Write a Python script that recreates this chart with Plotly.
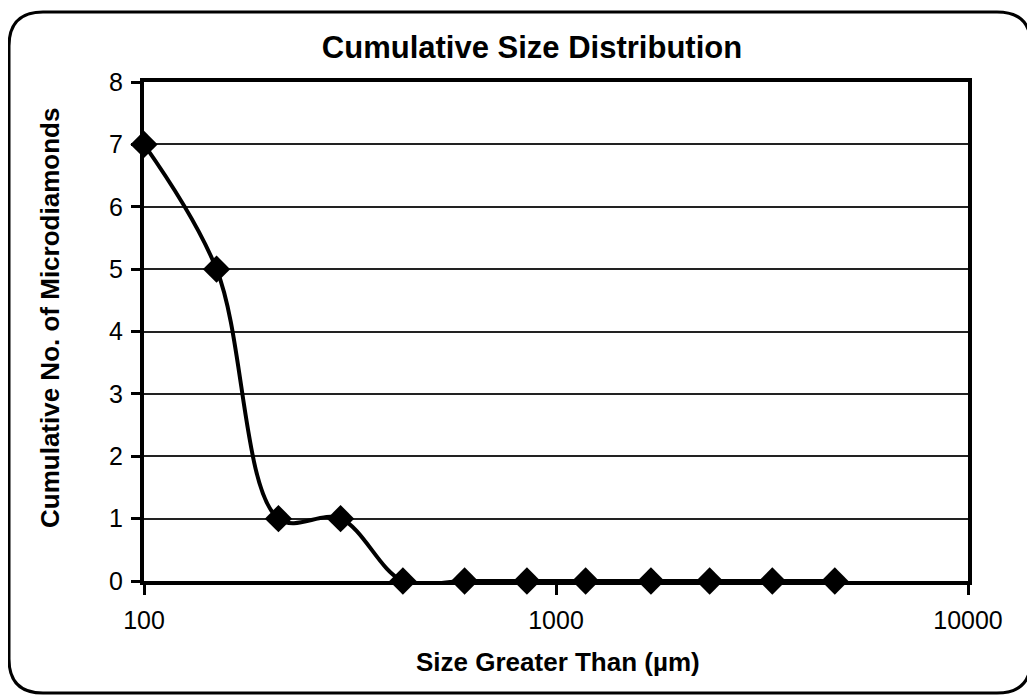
import plotly.graph_objects as go

# Data
sizes_um = [100, 150, 212, 300, 425, 600, 850, 1180, 1700, 2360, 3350, 4750]
cumulative_count = [7, 5, 1, 1, 0, 0, 0, 0, 0, 0, 0, 0]
y_ticks = [0, 1, 2, 3, 4, 5, 6, 7, 8]
x_ticks = [100, 1000, 10000]
x_tick_labels = ["100", "1000", "10000"]

# The page body adds an 8px offset; work in page pixels and convert.
OFF = 8
W, H = 1035 - OFF, 698 - OFF
PL, PR, PT, PB = 144, 968, 82, 581          # plot area in page pixels
L, T = PL - OFF, PT - OFF
R, B = W - (PR - OFF), H - (PB - OFF)
PW, PH = PR - PL, PB - PT

def px_x(x):
    return (x - PL) / PW

def px_y(y):
    return (PB - y) / PH

FONT = "Liberation Sans, Arial, sans-serif"

fig = go.Figure()
fig.add_trace(go.Scatter(
    x=sizes_um, y=cumulative_count,
    mode="lines+markers",
    line=dict(color="black", width=4, shape="spline", smoothing=1.0),
    marker=dict(symbol="diamond", size=21, color="black"),
    cliponaxis=False,
    showlegend=False,
))

# rounded outer frame
x0, x1 = px_x(9), px_x(1031)
y0, y1 = px_y(693), px_y(12)
rx, ry = 34 / PW, 34 / PH
path = (f"M {x0+rx},{y1} L {x1-rx},{y1} Q {x1},{y1} {x1},{y1-ry} "
        f"L {x1},{y0+ry} Q {x1},{y0} {x1-rx},{y0} "
        f"L {x0+rx},{y0} Q {x0},{y0} {x0},{y0+ry} "
        f"L {x0},{y1-ry} Q {x0},{y1} {x0+rx},{y1} Z")

fig.update_layout(
    width=W, height=H,
    margin=dict(l=L, r=R, t=T, b=B),
    paper_bgcolor="white", plot_bgcolor="white",
    font=dict(family=FONT, color="black"),
    title=dict(text="<b>Cumulative Size Distribution</b>",
               font=dict(size=31, family=FONT, color="black"),
               x=(532 - OFF) / W, xref="container", xanchor="center",
               y=1 - (47 - OFF) / H, yref="container", yanchor="middle"),
    shapes=[dict(type="path", path=path, xref="paper", yref="paper",
                 line=dict(color="black", width=3), layer="below")],
    annotations=[
        dict(text="<b>Cumulative No. of Microdiamonds</b>", textangle=-90,
             x=px_x(50), y=px_y(318), xref="paper", yref="paper",
             xanchor="center", yanchor="middle",
             showarrow=False, font=dict(size=26, family=FONT, color="black")),
        dict(text="<b>Size Greater Than (µm)</b>",
             x=px_x(558), y=px_y(662), xref="paper", yref="paper",
             xanchor="center", yanchor="middle",
             showarrow=False, font=dict(size=26, family=FONT, color="black")),
    ],
)

fig.update_xaxes(
    type="log", range=[2, 4],
    tickvals=x_ticks, ticktext=x_tick_labels,
    showgrid=False, zeroline=False,
    showline=True, linecolor="black", linewidth=4, mirror=True,
    ticks="outside", ticklen=10, tickwidth=3, tickcolor="black",
    tickfont=dict(size=25, family=FONT, color="black"),
    ticklabelstandoff=4,
)
fig.update_yaxes(
    range=[0, 8], tickvals=y_ticks,
    showgrid=True, gridcolor="#222", gridwidth=1.5,
    zeroline=False,
    showline=True, linecolor="black", linewidth=4, mirror=True,
    ticks="outside", ticklen=9, tickwidth=3, tickcolor="black",
    tickfont=dict(size=25, family=FONT, color="black"),
    ticklabelstandoff=3,
)

fig.write_html("out.html")
